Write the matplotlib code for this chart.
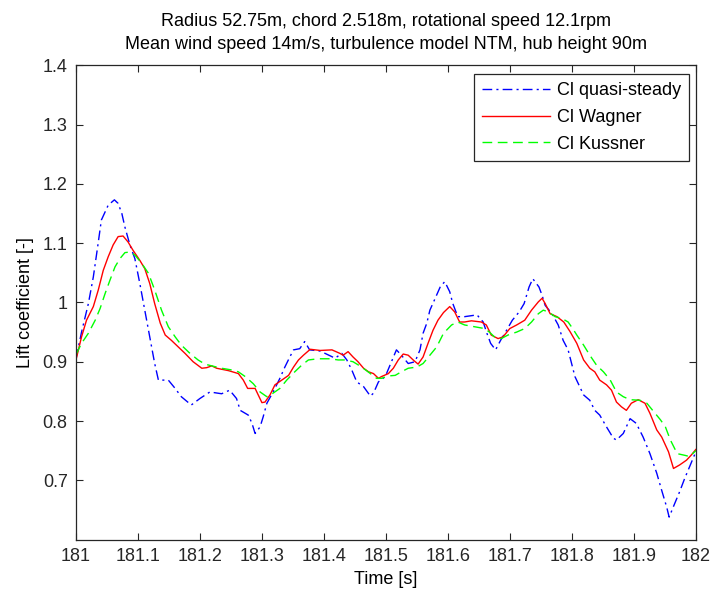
import matplotlib
matplotlib.use("Agg")
import matplotlib.pyplot as plt

plt.rcParams['font.family'] = ['Liberation Sans', 'DejaVu Sans']

# Cl quasi-steady (blue, dash-dot)
t_qs = [181.000, 181.009, 181.020, 181.028, 181.035, 181.041, 181.052, 181.062, 181.068, 181.074,
        181.079, 181.087, 181.095, 181.103, 181.111, 181.119, 181.127, 181.133, 181.149, 181.160,
        181.170, 181.186, 181.200, 181.216, 181.235, 181.248, 181.259, 181.265, 181.278, 181.284,
        181.289, 181.297, 181.302, 181.308, 181.318, 181.329, 181.337, 181.345, 181.351, 181.361,
        181.369, 181.377, 181.394, 181.418, 181.429, 181.437, 181.445, 181.453, 181.464, 181.475,
        181.480, 181.488, 181.499, 181.509, 181.517, 181.525, 181.536, 181.547, 181.555, 181.560,
        181.566, 181.571, 181.580, 181.588, 181.595, 181.603, 181.608, 181.616, 181.627, 181.647,
        181.657, 181.663, 181.669, 181.677, 181.685, 181.693, 181.704, 181.715, 181.723, 181.731,
        181.737, 181.747, 181.752, 181.757, 181.768, 181.778, 181.786, 181.794, 181.805, 181.819,
        181.829, 181.837, 181.845, 181.856, 181.867, 181.872, 181.883, 181.894, 181.904, 181.915,
        181.926, 181.937, 181.945, 181.953, 181.957, 181.966, 181.974, 181.982, 181.990, 182.000]
cl_qs = [0.905, 0.950, 0.998, 1.043, 1.094, 1.139, 1.164, 1.173, 1.167, 1.150,
         1.127, 1.097, 1.074, 1.032, 0.987, 0.942, 0.897, 0.869, 0.869, 0.855,
         0.841, 0.827, 0.838, 0.849, 0.846, 0.852, 0.838, 0.818, 0.810, 0.796,
         0.779, 0.790, 0.807, 0.830, 0.849, 0.872, 0.891, 0.908, 0.920, 0.922,
         0.934, 0.920, 0.918, 0.906, 0.914, 0.903, 0.886, 0.866, 0.858, 0.842,
         0.847, 0.866, 0.875, 0.900, 0.920, 0.911, 0.897, 0.900, 0.920, 0.948,
         0.965, 0.987, 1.008, 1.027, 1.035, 1.018, 0.998, 0.976, 0.976, 0.979,
         0.967, 0.948, 0.931, 0.920, 0.936, 0.950, 0.970, 0.984, 0.998, 1.026,
         1.040, 1.026, 1.012, 0.995, 0.981, 0.962, 0.936, 0.920, 0.875, 0.844,
         0.835, 0.818, 0.810, 0.790, 0.771, 0.768, 0.779, 0.804, 0.796, 0.773,
         0.745, 0.712, 0.683, 0.655, 0.638, 0.661, 0.681, 0.703, 0.723, 0.748]

# Cl Wagner (red, solid)
t_wa = [181.000, 181.009, 181.017, 181.028, 181.036, 181.044, 181.052, 181.060, 181.068, 181.076,
        181.084, 181.092, 181.103, 181.111, 181.119, 181.127, 181.136, 181.144, 181.154, 181.165,
        181.176, 181.189, 181.203, 181.211, 181.219, 181.227, 181.246, 181.262, 181.270, 181.277,
        181.289, 181.300, 181.305, 181.313, 181.321, 181.332, 181.343, 181.351, 181.359, 181.367,
        181.378, 181.394, 181.413, 181.426, 181.431, 181.439, 181.447, 181.455, 181.464, 181.472,
        181.480, 181.488, 181.493, 181.504, 181.512, 181.520, 181.528, 181.536, 181.544, 181.552,
        181.560, 181.568, 181.576, 181.584, 181.593, 181.603, 181.611, 181.619, 181.627, 181.638,
        181.654, 181.662, 181.670, 181.681, 181.689, 181.700, 181.711, 181.724, 181.735, 181.746,
        181.752, 181.757, 181.765, 181.776, 181.787, 181.797, 181.808, 181.819, 181.829, 181.837,
        181.845, 181.856, 181.864, 181.872, 181.880, 181.888, 181.896, 181.907, 181.918, 181.926,
        181.937, 181.945, 181.956, 181.964, 181.974, 181.985, 181.993, 182.000]
cl_wa = [0.903, 0.942, 0.970, 0.993, 1.021, 1.054, 1.077, 1.097, 1.111, 1.112,
         1.102, 1.088, 1.071, 1.057, 1.032, 0.998, 0.965, 0.945, 0.936, 0.925,
         0.914, 0.900, 0.889, 0.890, 0.893, 0.889, 0.885, 0.880, 0.869, 0.855,
         0.855, 0.831, 0.832, 0.844, 0.861, 0.869, 0.877, 0.891, 0.903, 0.911,
         0.921, 0.919, 0.920, 0.914, 0.911, 0.917, 0.908, 0.900, 0.889, 0.883,
         0.880, 0.872, 0.875, 0.880, 0.889, 0.903, 0.913, 0.911, 0.903, 0.896,
         0.908, 0.931, 0.953, 0.970, 0.983, 0.993, 0.984, 0.967, 0.967, 0.969,
         0.967, 0.962, 0.945, 0.939, 0.942, 0.956, 0.962, 0.970, 0.987, 1.001,
         1.007, 0.998, 0.981, 0.976, 0.967, 0.951, 0.931, 0.903, 0.889, 0.883,
         0.869, 0.861, 0.852, 0.832, 0.824, 0.818, 0.830, 0.836, 0.830, 0.813,
         0.785, 0.773, 0.748, 0.720, 0.726, 0.734, 0.743, 0.752]

# Cl Kussner (green, dashed)
t_ku = [181.000, 181.009, 181.020, 181.031, 181.039, 181.047, 181.055, 181.063, 181.071, 181.079,
        181.087, 181.095, 181.106, 181.117, 181.127, 181.138, 181.149, 181.160, 181.170, 181.184,
        181.197, 181.208, 181.219, 181.235, 181.252, 181.262, 181.273, 181.286, 181.297, 181.308,
        181.318, 181.329, 181.340, 181.353, 181.364, 181.375, 181.391, 181.410, 181.423, 181.434,
        181.447, 181.461, 181.475, 181.485, 181.493, 181.504, 181.515, 181.525, 181.536, 181.550,
        181.560, 181.571, 181.582, 181.593, 181.606, 181.616, 181.627, 181.643, 181.659, 181.667,
        181.675, 181.686, 181.697, 181.711, 181.724, 181.735, 181.746, 181.754, 181.762, 181.773,
        181.784, 181.794, 181.802, 181.808, 181.819, 181.829, 181.840, 181.851, 181.862, 181.872,
        181.883, 181.894, 181.910, 181.921, 181.932, 181.943, 181.951, 181.959, 181.970, 181.983,
        181.990, 182.000]
cl_ku = [0.912, 0.931, 0.948, 0.970, 0.990, 1.015, 1.038, 1.060, 1.074, 1.084,
         1.085, 1.080, 1.066, 1.049, 1.021, 0.987, 0.959, 0.942, 0.928, 0.914,
         0.903, 0.896, 0.893, 0.889, 0.886, 0.883, 0.875, 0.863, 0.849, 0.841,
         0.847, 0.855, 0.869, 0.883, 0.894, 0.903, 0.905, 0.905, 0.903, 0.903,
         0.900, 0.891, 0.880, 0.872, 0.872, 0.876, 0.877, 0.883, 0.889, 0.891,
         0.897, 0.911, 0.925, 0.948, 0.962, 0.967, 0.962, 0.959, 0.956, 0.950,
         0.942, 0.939, 0.945, 0.950, 0.956, 0.967, 0.981, 0.987, 0.984, 0.976,
         0.973, 0.967, 0.955, 0.945, 0.928, 0.911, 0.894, 0.883, 0.869, 0.849,
         0.841, 0.836, 0.835, 0.830, 0.816, 0.802, 0.790, 0.768, 0.745, 0.742,
         0.740, 0.750]

x_ticks = [181, 181.1, 181.2, 181.3, 181.4, 181.5, 181.6, 181.7, 181.8, 181.9, 182]
x_ticklabels = ['181', '181.1', '181.2', '181.3', '181.4', '181.5', '181.6', '181.7',
                '181.8', '181.9', '182']
y_ticks = [0.7, 0.8, 0.9, 1.0, 1.1, 1.2, 1.3, 1.4]
y_ticklabels = ['0.7', '0.8', '0.9', '1', '1.1', '1.2', '1.3', '1.4']

fig = plt.figure(figsize=(7.10, 5.93), dpi=100)
ax = fig.add_axes([0.107, 0.090, 0.873, 0.800])

ax.plot(t_qs, cl_qs, color='#0000ff', lw=1.0, dashes=(7, 3, 1.5, 3), label='Cl quasi-steady')
ax.plot(t_wa, cl_wa, color='#ff0000', lw=1.0, label='Cl Wagner')
ax.plot(t_ku, cl_ku, color='#00ff00', lw=1.0, dashes=(7, 4), label='Cl Kussner')

ax.set_xlim(181, 182)
ax.set_ylim(0.6, 1.4)
ax.set_xticks(x_ticks)
ax.set_xticklabels(x_ticklabels)
ax.set_yticks(y_ticks)
ax.set_yticklabels(y_ticklabels)
ax.tick_params(direction='in', length=5, width=0.8, top=True, right=True,
               labelsize=13, colors='#262626', pad=6)
for s in ax.spines.values():
    s.set_color('#262626')
    s.set_linewidth(0.9)

ax.set_xlabel('Time [s]', fontsize=13, labelpad=4)
ax.set_ylabel('Lift coefficient [-]', fontsize=13, labelpad=6)
ax.set_title('Radius 52.75m, chord 2.518m, rotational speed 12.1rpm\n'
             'Mean wind speed 14m/s, turbulence model NTM, hub height 90m',
             fontsize=13, pad=12, linespacing=1.45)

leg = ax.legend(loc='upper right', bbox_to_anchor=(0.989, 0.982), fontsize=13,
                frameon=True, fancybox=False, framealpha=1, edgecolor='#262626',
                handlelength=3.8, handletextpad=0.35, borderpad=0.45,
                labelspacing=0.55, borderaxespad=0)
leg.get_frame().set_linewidth(0.9)

fig.savefig('out.png', dpi=100)
